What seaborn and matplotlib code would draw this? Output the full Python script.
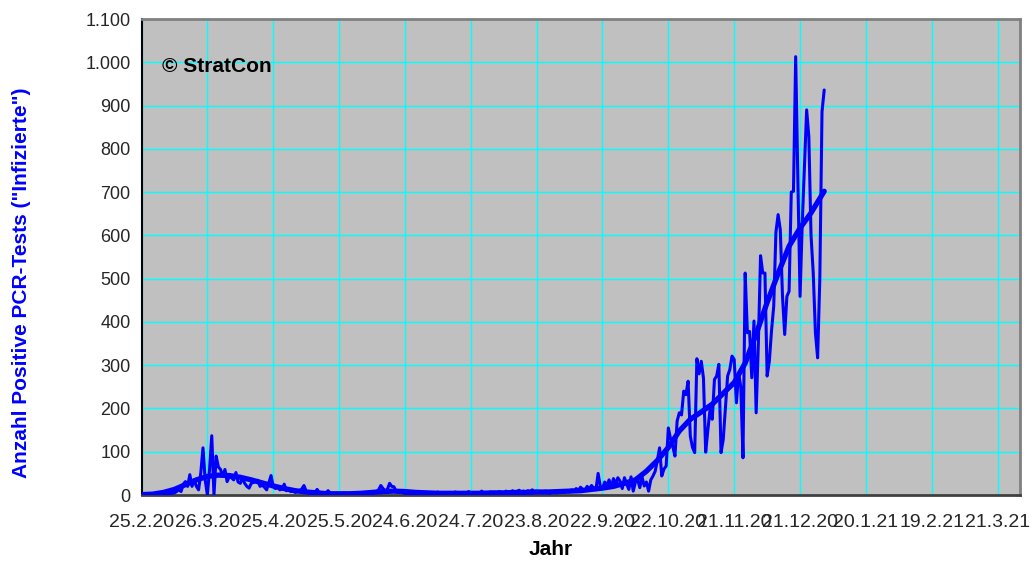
import numpy as np
import pandas as pd
import matplotlib
matplotlib.use("Agg")
import matplotlib.pyplot as plt
from matplotlib.ticker import FixedLocator, MultipleLocator, FuncFormatter
import matplotlib.dates as mdates
import seaborn as sns

START = pd.Timestamp("2020-02-25")

# daily positive PCR tests, one value per day from 25.2.20
cases = [
    0, 0, 0, 0, 1, 0, 1, 0, 1, 2,
    1, 2, 3, 3, 4, 5, 8, 12, 8, 25,
    31, 20, 47, 20, 35, 20, 12, 51, 109, 35,
    0, 60, 137, 0, 90, 65, 59, 43, 59, 31,
    43, 40, 35, 52, 30, 27, 39, 27, 20, 16,
    27, 29, 31, 34, 20, 23, 18, 12, 28, 45,
    20, 15, 18, 12, 14, 25, 10, 12, 8, 9,
    6, 8, 10, 14, 22, 9, 6, 7, 5, 6,
    13, 5, 4, 3, 5, 10, 4, 2, 3, 2,
    1, 2, 1, 2, 1, 2, 3, 2, 3, 2,
    3, 4, 3, 5, 4, 6, 5, 7, 12, 22,
    15, 10, 13, 27, 20, 19, 8, 6, 7, 5,
    4, 3, 4, 2, 5, 3, 2, 4, 3, 5,
    6, 3, 4, 2, 3, 7, 4, 3, 5, 4,
    6, 3, 5, 7, 4, 5, 3, 6, 4, 8,
    5, 4, 6, 3, 5, 9, 4, 6, 5, 7,
    4, 6, 5, 8, 6, 4, 9, 7, 5, 10,
    6, 8, 11, 7, 9, 6, 10, 8, 12, 7,
    9, 6, 8, 5, 9, 7, 4, 6, 8, 5,
    7, 9, 6, 8, 10, 7, 12, 9, 15, 11,
    18, 13, 10, 20, 14, 22, 16, 12, 50, 20,
    15, 30, 22, 35, 18, 38, 25, 40, 32, 15,
    40, 25, 13, 42, 9, 30, 36, 17, 42, 21,
    30, 9, 35, 44, 55, 80, 109, 44, 60, 67,
    155, 130, 113, 90, 171, 190, 185, 240, 232, 263,
    136, 110, 98, 315, 280, 309, 270, 99, 150, 198,
    175, 267, 275, 302, 98, 128, 200, 275, 290, 321,
    313, 213, 282, 250, 86, 513, 375, 378, 271, 402,
    190, 350, 553, 513, 513, 275, 309, 380, 436, 607,
    648, 613, 459, 371, 459, 471, 700, 702, 1013, 728,
    459, 628, 760, 890, 828, 600, 513, 375, 317, 500,
    886, 936,
]

# smoothed trend (days after 25.2.20)
trend_days = [0, 5, 10, 15, 20, 25, 30, 35, 40, 45, 50, 55, 60, 65, 70, 75,
              80, 85, 90, 95, 100, 105, 110, 115, 120, 125, 130, 135, 140,
              145, 150, 155, 160, 165, 170, 175, 180, 185, 190, 195, 200,
              205, 210, 215, 220, 225, 230, 235, 240, 245, 250, 255, 260,
              265, 270, 275, 280, 285, 290, 295, 300, 305, 311]
trend_vals = [1, 2, 6, 13, 24, 35, 43, 46, 45, 41, 35, 28, 21, 15, 10, 7,
              5, 3, 3, 3, 4, 6, 8, 9, 8, 6, 5, 4, 4,
              4, 4, 4, 5, 5, 6, 6, 7, 7, 8, 9, 10,
              13, 16, 20, 27, 35, 55, 80, 110, 148, 175, 192, 210,
              235, 260, 305, 372, 445, 512, 575, 617, 652, 702]

tick_dates = pd.date_range(START, periods=14, freq="30D")
minor_dates = pd.date_range(START + pd.Timedelta(days=15), periods=14, freq="30D")

df = pd.DataFrame({
    "datum": START + pd.to_timedelta(np.arange(len(cases)), unit="D"),
    "positiv": cases,
})
df_trend = pd.DataFrame({
    "datum": START + pd.to_timedelta(trend_days, unit="D"),
    "trend": trend_vals,
})

sns.set_style("white")
plt.rcParams["font.family"] = ["Liberation Sans", "DejaVu Sans"]

fig = plt.figure(figsize=(10.33, 5.66), dpi=100)
ax = fig.add_axes([0.137, 0.1254, 0.850, 0.841])
ax.set_facecolor("#C0C0C0")

sns.lineplot(data=df, x="datum", y="positiv", ax=ax, color="#0000FF",
             linewidth=2.2, zorder=3)
sns.lineplot(data=df_trend, x="datum", y="trend", ax=ax, color="#0000FF",
             linewidth=3.8, zorder=4)

ax.set_xlim(START, START + pd.Timedelta(days=400))
ax.set_ylim(0, 1100)

ax.xaxis.set_major_locator(FixedLocator(mdates.date2num(tick_dates)))
ax.xaxis.set_minor_locator(FixedLocator(mdates.date2num(minor_dates)))
ax.xaxis.set_major_formatter(FuncFormatter(
    lambda v, _: (lambda d: f"{d.day}.{d.month}.{d:%y}")(mdates.num2date(v))))
ax.yaxis.set_major_locator(MultipleLocator(100))
ax.yaxis.set_minor_locator(MultipleLocator(50))
ax.yaxis.set_major_formatter(FuncFormatter(lambda v, _: f"{int(v):,}".replace(",", ".")))

ax.grid(True, which="major", color="#00FFFF", linewidth=1.0, zorder=1)
ax.set_axisbelow(True)

ax.tick_params(axis="both", which="major", direction="inout", length=10,
               width=1.2, color="black")
ax.tick_params(axis="both", which="minor", direction="in", length=5,
               width=1.0, color="black")
ax.tick_params(axis="x", labelsize=14, pad=9)
ax.tick_params(axis="y", labelsize=13, pad=3)

for side in ["top", "right"]:
    ax.spines[side].set_color("#808080")
    ax.spines[side].set_linewidth(2)
ax.spines["left"].set_color("black")
ax.spines["left"].set_linewidth(1.5)
ax.spines["bottom"].set_color("#404040")
ax.spines["bottom"].set_linewidth(2)

ax.set_xlabel("Jahr", fontsize=15, fontweight="bold", color="black")
ax.xaxis.set_label_coords(0.466, -0.095)
ax.set_ylabel('Anzahl Positive PCR-Tests ("Infizierte")', fontsize=15,
              fontweight="bold", color="#0000FF")
ax.yaxis.set_label_coords(-0.126, 0.445)

ax.text(0.023, 0.90, "© StratCon", transform=ax.transAxes, fontsize=15,
        fontweight="bold", color="black", va="center", ha="left")

fig.savefig("out.png", dpi=100, facecolor="white")
